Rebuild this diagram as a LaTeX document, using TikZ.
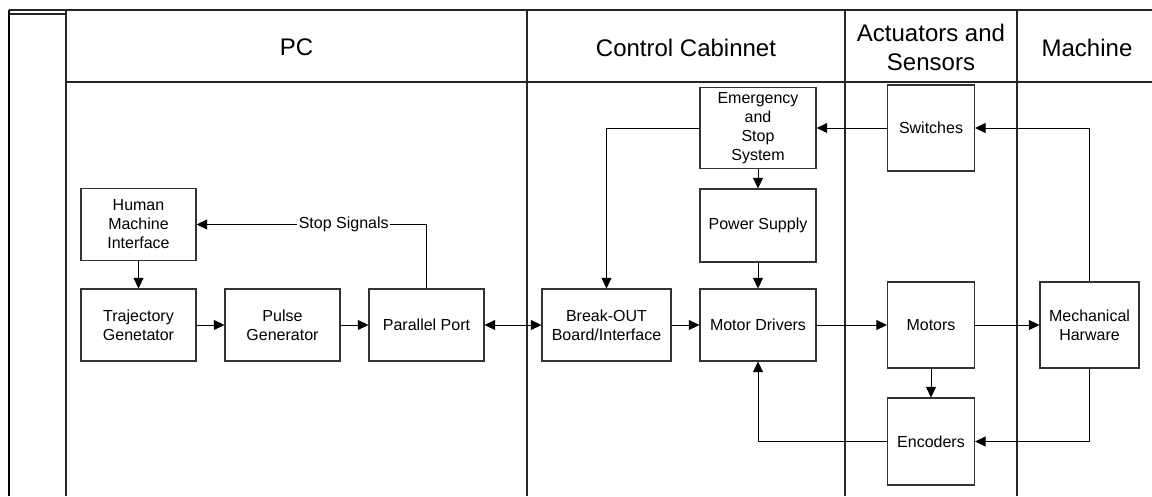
\documentclass[tikz,border=0pt]{standalone}
\usepackage{fontspec}
\setmainfont{Liberation Sans}
\usetikzlibrary{arrows.meta}
\begin{document}
\begin{tikzpicture}[x=0.75pt,y=-0.75pt,
  blk/.style={draw=black!80,line width=0.8pt,inner sep=0pt,align=center,font=\fontsize{12}{14.3}\selectfont},
  hdr/.style={align=center,font=\fontsize{18}{21.75}\selectfont},
  lane/.style={draw=black!85,line width=0.8pt},
  conn/.style={draw=black,line width=0.75pt},
  arr/.style={conn,-{Triangle[length=8pt,width=7.5pt]}},
  darr/.style={conn,{Triangle[length=8pt,width=7.5pt]}-{Triangle[length=8pt,width=7.5pt]}}]
\useasboundingbox (0,0) rectangle (1152,496);
% swimlane frame
\draw[lane] (9,10) -- (1152,10);
\draw[lane] (9,14) -- (66,14);
\draw[draw=black,line width=1.6pt] (9,10) -- (9,496);
\draw[lane] (66,10) -- (66,496);
\draw[lane] (66,82) -- (1152,82);
\draw[lane] (527,10) -- (527,496);
\draw[lane] (845,10) -- (845,496);
\draw[lane] (1017,10) -- (1017,496);
% headers
\node[hdr] (hpc) at (296.5,47) {PC};
\node[hdr] (hcc) at (686,48) {Control Cabinnet};
\node[hdr] (has) at (931,47) {Actuators and\\Sensors};
\node[hdr] (hma) at (1087,48) {Machine};
% blocks
\node[blk,minimum width={115*0.75pt},minimum height={72*0.75pt}] (hmi) at (138.5,224.5) {Human\\Machine\\Interface};
\node[blk,minimum width={115*0.75pt},minimum height={72*0.75pt}] (traj) at (138.5,325) {Trajectory\\Genetator};
\node[blk,minimum width={115*0.75pt},minimum height={72*0.75pt}] (pulse) at (282.5,325) {Pulse\\Generator};
\node[blk,minimum width={115*0.75pt},minimum height={72*0.75pt}] (pport) at (426.5,325) {Parallel Port};
\node[blk,minimum width={129*0.75pt},minimum height={72*0.75pt}] (bo) at (606.5,325) {Break-OUT\\Board/Interface};
\node[blk,minimum width={116*0.75pt},minimum height={72*0.75pt}] (md) at (758,325) {Motor Drivers};
\node[blk,minimum width={87*0.75pt},minimum height={86*0.75pt}] (mot) at (931,325) {Motors};
\node[blk,minimum width={99*0.75pt},minimum height={86*0.75pt}] (mech) at (1089.5,325) {Mechanical\\Harware};
\node[blk,minimum width={87*0.75pt},minimum height={87*0.75pt}] (enc) at (931,441.5) {Encoders};
\node[blk,minimum width={87*0.75pt},minimum height={86*0.75pt}] (sw) at (931,128) {Switches};
\node[blk,minimum width={116*0.75pt},minimum height={81*0.75pt}] (ess) at (758,128) {Emergency\\and\\Stop\\System};
\node[blk,minimum width={116*0.75pt},minimum height={73*0.75pt}] (ps) at (758,225.5) {Power Supply};
% connectors
\draw[arr] (hmi) -- (traj);
\draw[arr] (traj) -- (pulse);
\draw[arr] (pulse) -- (pport);
\draw[darr] (pport) -- (bo);
\draw[arr] (pport.north) |- node[pos=0.68,fill=white,inner sep=1pt,font=\fontsize{12}{14}\selectfont] (stoplbl) {Stop Signals} (hmi.east);
\draw[arr] (ess.west) -| (bo.north);
\draw[arr] (ess) -- (ps);
\draw[arr] (ps) -- (md);
\draw[arr] (bo) -- (md);
\draw[arr] (md) -- (mot);
\draw[arr] (mot) -- (mech);
\draw[arr] (mot) -- (enc);
\draw[arr] (enc.west) -| (md.south);
\draw[arr] (mech.south) |- (enc.east);
\draw[arr] (mech.north) |- (sw.east);
\draw[arr] (sw) -- (ess);
\end{tikzpicture}
\end{document}
